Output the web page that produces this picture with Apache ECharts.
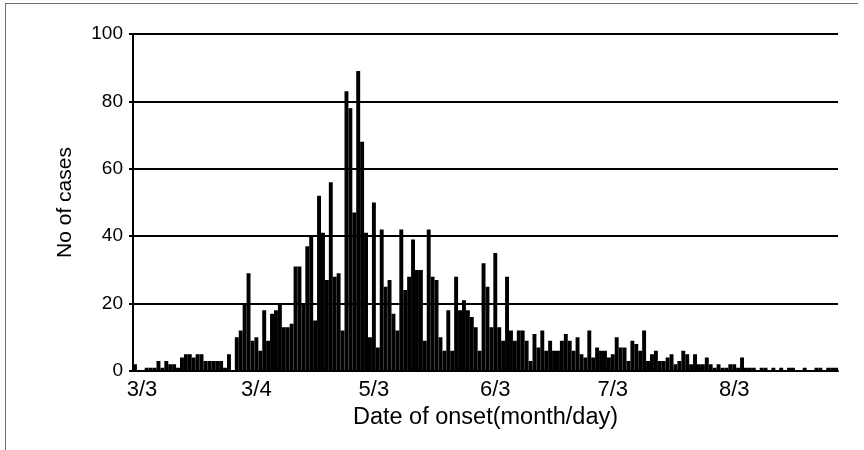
<!DOCTYPE html>
<html><head><meta charset="utf-8">
<script src="https://cdn.jsdelivr.net/npm/echarts@6/dist/echarts.min.js"></script>
<style>
html,body{margin:0;padding:0;background:#fff;}
#frame{position:absolute;left:5px;top:3px;width:853px;height:447px;border-top:1px solid #707070;border-left:1px solid #707070;box-sizing:border-box;}
#chart{position:absolute;left:0;top:0;width:864px;height:450px;}
</style></head><body>
<div id="frame"></div>
<div id="chart"></div>
<script>
// Daily case counts by date of onset
const casesMar = [2,0,0,1,1,1,3,1,3,2,2,1,4,5,5,4,5,5,3,3,3,3,3,1,5,0,10,12,20];        // 3/3 - 3/31
const casesApr = [29,9,10,6,18,9,17,18,20,13,13,14,31,31,20,37,40,15,52,41,27,56,28,29,12,83,78,47,89,68]; // 4/1 - 4/30
const casesMay = [41,10,50,7,42,25,27,17,12,42,24,28,39,30,30,9,42,28,27,10,6,18,6,28,18,21,18,16,13,6,32]; // 5/1 - 5/31
const casesJun = [25,13,35,13,9,28,12,9,12,12,9,3,11,7,12,6,9,6,6,9,11,9,6,10,5,4,12,4,7,6];   // 6/1 - 6/30
const casesJul = [6,4,5,10,7,7,3,9,8,6,12,3,5,6,3,3,4,5,2,3,6,5,2,5,2,2,4,2,1,2,1];       // 7/1 - 7/31
const casesAug = [1,2,2,1,4,1,1,1,0,1,1,0,1,0,1,0,1,1,0,0,1,0,0,1,1,0,1,1,1];            // 8/1 - 8/29

// Month ranges of the category axis: [month, first day, last day]
const monthRanges = [[3,3,31],[4,1,30],[5,1,31],[6,1,30],[7,1,31],[8,1,29]];

// X tick labels (as printed in the original) and the day index they sit on
const tickLabels = ['3/3','3/4','5/3','6/3','7/3','8/3'];
const tickIndex = [0,31,61,92,122,153];

// Y axis
const yMin = 0, yMax = 100, yStep = 20;

const days = [];
for (const [m, s, e] of monthRanges) for (let d = s; d <= e; d++) days.push(m + '/' + d);
const cases = [].concat(casesMar, casesApr, casesMay, casesJun, casesJul, casesAug);

const FONT = 'Liberation Sans, Arial, Helvetica, sans-serif';
const chart = echarts.init(document.getElementById('chart'), null, {renderer: 'canvas'});
chart.setOption({
  animation: false,
  backgroundColor: 'transparent',
  grid: {left: 133, right: 26, top: 34, bottom: 79},
  xAxis: {
    type: 'category',
    data: days,
    boundaryGap: true,
    axisLine: {lineStyle: {color: '#000', width: 2}},
    axisTick: {show: false},
    splitLine: {show: false},
    axisLabel: {
      interval: (i) => tickIndex.includes(i),
      formatter: (v, i) => {
        const k = tickIndex.indexOf(i);
        if (k < 0) return '';
        return k === 0 ? '{first|' + tickLabels[k] + '}' : tickLabels[k];
      },
      rich: {first: {color: '#000', fontSize: 22, fontFamily: FONT, padding: [0, 0, 0, 14]}},
      color: '#000', fontSize: 22, fontFamily: FONT, margin: 8
    },
    name: 'Date of onset(month/day)',
    nameLocation: 'middle',
    nameGap: 31,
    nameTextStyle: {color: '#000', fontSize: 23.5, fontFamily: FONT}
  },
  yAxis: {
    type: 'value',
    min: yMin, max: yMax, interval: yStep,
    axisLine: {show: true, lineStyle: {color: '#000', width: 2}},
    axisTick: {show: true, length: 4, lineStyle: {color: '#000', width: 2}},
    splitLine: {show: true, lineStyle: {color: '#000', width: 2}},
    axisLabel: {color: '#000', fontSize: 19, fontFamily: FONT, margin: 10},
    name: 'No of cases',
    nameLocation: 'middle',
    nameGap: 57,
    nameTextStyle: {color: '#000', fontSize: 21, fontFamily: FONT}
  },
  series: [{
    type: 'bar',
    data: cases,
    barCategoryGap: '0%',
    itemStyle: {color: '#000', borderColor: '#000', borderWidth: 1.4}
  }]
});
</script>
</body></html>
